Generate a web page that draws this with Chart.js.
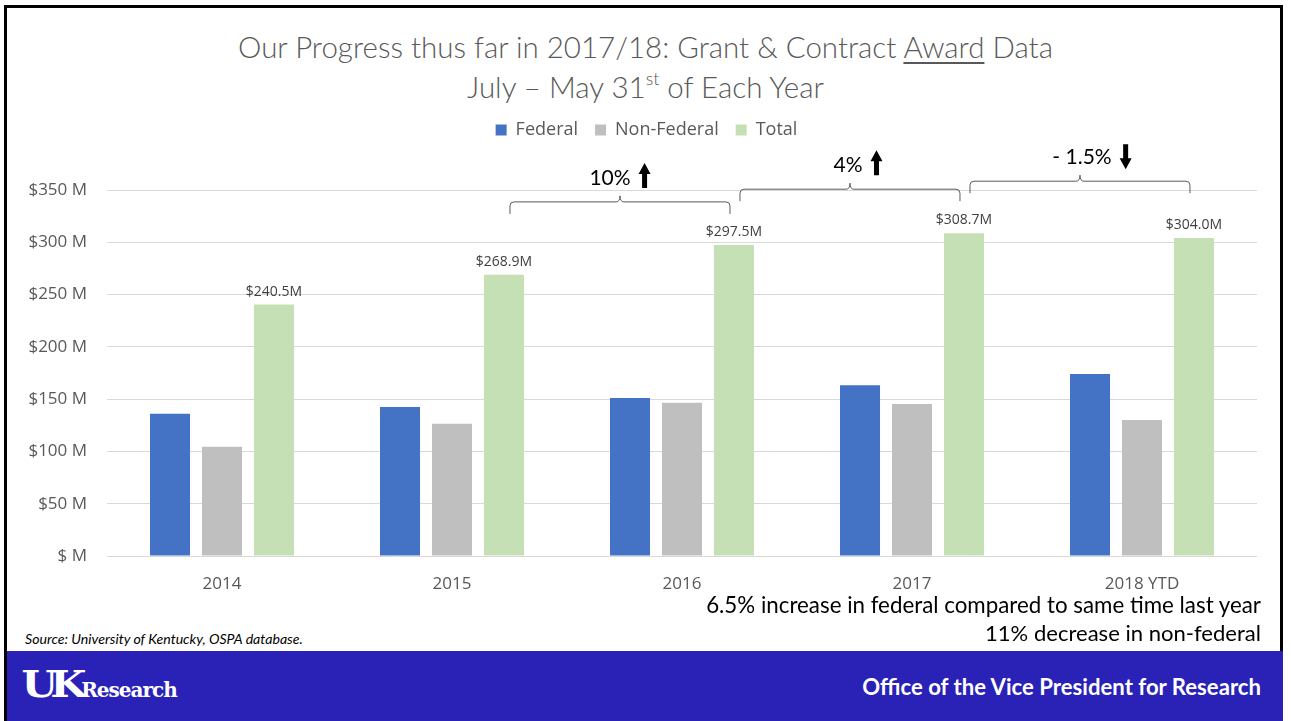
<!DOCTYPE html>
<html>
<head>
<meta charset="utf-8">
<script src="https://cdn.jsdelivr.net/npm/chart.js@4.4.1/dist/chart.umd.min.js"></script>
<style>
  html, body { margin: 0; padding: 0; background: #fff; }
  body { width: 1291px; height: 721px; position: relative; overflow: hidden; font-family: Lato, "Open Sans", sans-serif; }
  .frame { position: absolute; left: 4px; top: 5px; width: 1279px; height: 740px; border: 3px solid #000; box-sizing: border-box; }
  .t { position: absolute; white-space: nowrap; line-height: 1; }
  .ttl { color: #595959; font-weight: 300; left: 0; width: 1291px; text-align: center; }
  .ttl span { display: inline-block; }
  #title1 u { text-decoration-thickness: 2px; text-underline-offset: 4px; }
  #title2 sup { font-size: 60%; vertical-align: 0.75em; line-height: 0; }
  .note { color: #000; right: 30px; }
  #source { left: 25px; font-style: italic; color: #000; }
  .band { position: absolute; left: 7px; top: 651px; width: 1276px; height: 70px; background: #2a21b6; }
  #office { color: #fff; font-weight: 700; right: 30px; }
  #logo { position: absolute; left: 24px; top: 661px; color: #fff; }
  #logo .uk { font-family: "DejaVu Serif", serif; font-weight: 900; font-size: 38px; letter-spacing: -7px; display: inline-block; transform: scaleX(1.1); }
  #logo .rs { font-family: "DejaVu Serif", "Liberation Serif", serif; font-weight: 700; font-size: 20px; margin-left: 5px; letter-spacing: -1px; }
  #wrap { position: absolute; left: 0; top: 100px; width: 1291px; height: 500px; }
</style>
</head>
<body>
<div class="frame"></div>
<div class="t ttl" style="top:32px"><span id="title1" style="font-size:27px">Our Progress thus far in 2017/18: Grant &amp; Contract <u>Award</u> Data</span></div>
<div class="t ttl" style="top:72px"><span id="title2" style="font-size:27px">July – May 31<sup>st</sup> of Each Year</span></div>

<div id="wrap"><canvas id="chart"></canvas></div>

<div class="t note" id="note1" style="top:594px;font-size:21px">6.5% increase in federal compared to same time last year</div>
<div class="t note" id="note2" style="top:622px;font-size:21px">11% decrease in non-federal</div>
<div class="t" id="source" style="top:632px;font-size:12px">Source: University of Kentucky, OSPA database.</div>
<div class="band"></div>
<div id="logo"><span class="uk">UK</span><span class="rs">Research</span></div>
<div class="t" id="office" style="top:676px;font-size:20px">Office of the Vice President for Research</div>

<script>
// chart data
const years = ['2014', '2015', '2016', '2017', '2018 YTD'];
const federal = [136.0, 142.5, 151.0, 163.4, 174.0];
const nonFederal = [104.5, 126.4, 146.5, 145.3, 130.0];
const total = [240.5, 268.9, 297.5, 308.7, 304.0];
const yTicks = [0, 50, 100, 150, 200, 250, 300, 350];

// year-over-year change callouts (index of the later year, compared with the one before)
const changeTo = [2, 3, 4];
const changeLabels = ['10%', '4%', '- 1.5%'];
const changeUp = [true, true, false];

// scale some html text to the width it has in the slide
function fitWidth(id, w) {
    const el = document.getElementById(id);
    const size = parseFloat(el.style.fontSize);
    const cur = el.getBoundingClientRect().width;
    el.style.fontSize = (size * w / cur).toFixed(2) + 'px';
}

// leave room under the legend for the braces, and centre it on the slide
const legendSpace = {
    id: 'legendSpace',
    afterInit(chart) {
        const legend = chart.legend;
        const fit = legend.fit;
        legend.fit = function () {
            fit.call(legend);
            legend.height = 86;
        };
    },
    afterLayout(chart) {
        chart.legend.left += 18;
        chart.legend.right += 18;
    }
};

const totalLabels = {
    id: 'totalLabels',
    afterDatasetsDraw(chart) {
        const ctx = chart.ctx;
        const meta = chart.getDatasetMeta(2);
        ctx.save();
        ctx.font = '14px "Open Sans"';
        ctx.fillStyle = '#404040';
        ctx.textAlign = 'center';
        ctx.textBaseline = 'alphabetic';
        meta.data.forEach((bar, i) => {
            ctx.fillText('$' + total[i].toFixed(1) + 'M', bar.x, bar.y - 9);
        });
        ctx.restore();
    }
};

function drawArrow(ctx, x, top, bottom, up) {
    const w = 12, shaft = 5, head = 11;
    ctx.beginPath();
    if (up) {
        ctx.moveTo(x + w / 2, top);
        ctx.lineTo(x + w, top + head);
        ctx.lineTo(x + w / 2 + shaft / 2, top + head);
        ctx.lineTo(x + w / 2 + shaft / 2, bottom);
        ctx.lineTo(x + w / 2 - shaft / 2, bottom);
        ctx.lineTo(x + w / 2 - shaft / 2, top + head);
        ctx.lineTo(x, top + head);
    } else {
        ctx.moveTo(x + w / 2, bottom);
        ctx.lineTo(x + w, bottom - head);
        ctx.lineTo(x + w / 2 + shaft / 2, bottom - head);
        ctx.lineTo(x + w / 2 + shaft / 2, top);
        ctx.lineTo(x + w / 2 - shaft / 2, top);
        ctx.lineTo(x + w / 2 - shaft / 2, bottom - head);
        ctx.lineTo(x, bottom - head);
    }
    ctx.closePath();
    ctx.fill();
}

const braces = {
    id: 'braces',
    afterDraw(chart, args, opts) {
        const ctx = chart.ctx;
        const meta = chart.getDatasetMeta(2);
        const y = chart.scales.y;
        ctx.save();
        changeTo.forEach((i, k) => {
            const x1 = meta.data[i - 1].x + 6;
            const x2 = meta.data[i].x - 4;
            const top = y.getPixelForValue(Math.max(total[i - 1], total[i]));
            const ly = top - opts.lift[k];
            const mid = (x1 + x2) / 2;
            const r = 4;
            // curly brace
            ctx.strokeStyle = '#595959';
            ctx.lineWidth = 1;
            ctx.beginPath();
            ctx.moveTo(x1, ly + 12);
            ctx.lineTo(x1, ly + r);
            ctx.quadraticCurveTo(x1, ly, x1 + r, ly);
            ctx.lineTo(mid - r, ly);
            ctx.quadraticCurveTo(mid, ly, mid, ly - 6);
            ctx.quadraticCurveTo(mid, ly, mid + r, ly);
            ctx.lineTo(x2 - r, ly);
            ctx.quadraticCurveTo(x2, ly, x2, ly + r);
            ctx.lineTo(x2, ly + 12);
            ctx.stroke();
            // label + arrow
            ctx.font = '21px Lato';
            ctx.fillStyle = '#000';
            ctx.textBaseline = 'alphabetic';
            ctx.textAlign = 'left';
            const tw = ctx.measureText(changeLabels[k]).width;
            const gap = 8, aw = 12;
            const gx = mid + opts.shift[k] - (tw + gap + aw) / 2;
            const base = ly - 17;
            ctx.fillText(changeLabels[k], gx, base);
            if (changeUp[k]) drawArrow(ctx, gx + tw + gap, base - 22, base + 3, true);
            else drawArrow(ctx, gx + tw + gap, base - 20, base + 5, false);
        });
        ctx.restore();
    }
};

const grey = '#595959';

new Chart(document.getElementById('chart'), {
    type: 'bar',
    data: {
        labels: years,
        datasets: [
            { label: 'Federal', data: federal, backgroundColor: '#4472c4' },
            { label: 'Non-Federal', data: nonFederal, backgroundColor: '#bfbfbf' },
            { label: 'Total', data: total, backgroundColor: '#c5e0b4' },
        ],
    },
    options: {
        responsive: true,
        maintainAspectRatio: false,
        animation: false,
        categoryPercentage: 0.678,
        barPercentage: 0.77,
        layout: { padding: { left: 0, right: 34, top: 4, bottom: 0 } },
        scales: {
            x: {
                grid: { display: false },
                border: { display: false },
                ticks: { color: grey, font: { family: 'Open Sans', size: 17 }, padding: 10 },
                afterFit: scale => { scale.height = 44; },
            },
            y: {
                min: 0,
                max: 350,
                afterBuildTicks: scale => { scale.ticks = yTicks.map(v => ({ value: v })); },
                grid: { color: '#d9d9d9', drawTicks: false },
                border: { display: false },
                ticks: {
                    color: grey,
                    font: { family: 'Open Sans', size: 17 },
                    padding: 20,
                    callback: v => v === 0 ? '$ M' : '$' + v + ' M',
                },
                afterFit: scale => { scale.width = 107; },
            },
        },
        plugins: {
            legend: {
                position: 'top',
                labels: {
                    color: grey,
                    font: { family: 'Open Sans', size: 18 },
                    boxWidth: 11,
                    boxHeight: 11,
                    padding: 17,
                },
            },
            tooltip: { enabled: false },
            braces: { lift: [43, 44, 52], shift: [0, 8, 12] },
        },
    },
    plugins: [legendSpace, totalLabels, braces],
});

fitWidth('title1', 815);
fitWidth('title2', 357);
fitWidth('note1', 555);
fitWidth('note2', 276);
fitWidth('source', 278);
fitWidth('office', 399);
</script>
</body>
</html>
